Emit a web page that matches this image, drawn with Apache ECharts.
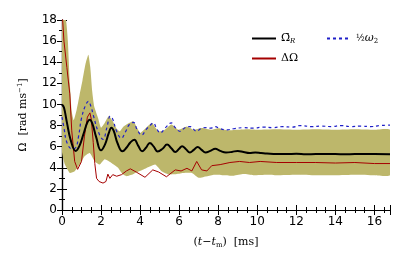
<!DOCTYPE html>
<html>
<head>
<meta charset="utf-8">
<script src="https://cdn.jsdelivr.net/npm/echarts@6/dist/echarts.min.js"></script>
<style>html,body{margin:0;padding:0;background:#fff}#c{width:411px;height:254px}</style>
</head>
<body>
<div id="c"></div>
<script>
// ---- data ----
const xTicks = [0, 2, 4, 6, 8, 10, 12, 14, 16];
const yTicks = [0, 2, 4, 6, 8, 10, 12, 14, 16, 18];

const omegaRX = [0,0.1,0.25,0.45,0.7,0.9,1.1,1.3,1.42,1.55,1.75,2.0,2.2,2.4,2.53,2.65,2.85,3.1,3.3,3.5,3.7,3.9,4.1,4.3,4.5,4.7,4.9,5.15,5.38,5.6,5.8,6.0,6.15,6.35,6.55,6.75,6.95,7.15,7.35,7.6,7.85,8.1,8.4,8.7,9.0,9.3,9.6,9.9,10.2,10.5,11,11.5,12,12.5,13,13.5,14,14.5,15,15.5,16,16.8];
const omegaR  = [10.0,9.7,8.3,6.6,5.6,6.1,7.2,8.3,8.55,8.2,6.9,5.65,6.2,7.3,7.8,7.5,6.3,5.56,5.9,6.4,6.65,6.1,5.56,5.9,6.35,6.0,5.55,5.8,6.2,5.85,5.5,5.8,6.05,5.75,5.45,5.7,5.97,5.7,5.45,5.6,5.8,5.6,5.45,5.5,5.6,5.5,5.4,5.45,5.4,5.35,5.3,5.3,5.32,5.28,5.3,5.3,5.3,5.28,5.3,5.3,5.3,5.28];

const deltaX = [0,0.1,0.25,0.4,0.5,0.65,0.8,1.0,1.15,1.3,1.43,1.5,1.6,1.68,1.77,1.9,2.1,2.25,2.35,2.45,2.6,2.8,3.05,3.3,3.5,3.8,4.25,4.65,4.95,5.35,5.8,6.1,6.4,6.65,6.9,7.15,7.42,7.67,8.1,8.6,9.1,9.6,10.15,11,12,13,14,15,16,16.8];
const delta  = [19,16,13.5,11,7.5,4.6,3.85,4.6,7.0,8.8,9.2,8.6,6.4,4.4,3.0,2.7,2.55,2.7,3.4,3.0,3.35,3.2,3.35,3.7,3.9,3.6,3.1,3.8,3.6,3.15,3.8,3.7,3.95,3.7,4.6,3.8,3.7,4.2,4.3,4.5,4.6,4.5,4.6,4.5,4.5,4.5,4.45,4.5,4.4,4.4];

const halfW2X = [0,0.1,0.25,0.5,0.7,0.85,1.0,1.2,1.35,1.5,1.6,1.85,2.1,2.3,2.47,2.6,2.8,3.04,3.25,3.45,3.66,3.85,4.08,4.3,4.5,4.68,4.85,5.03,5.3,5.6,5.8,6.05,6.3,6.56,6.9,7.1,7.33,7.6,7.85,8.1,8.45,8.8,9.3,9.8,10.3,10.8,11.3,11.8,12.2,12.8,13.3,13.8,14.3,14.8,15.3,15.8,16.3,16.8];
const halfW2  = [8.8,7.8,6.4,5.8,5.9,7.0,8.7,9.9,10.3,9.7,9.0,7.45,6.7,7.8,8.9,8.6,7.45,6.8,7.4,8.1,8.3,7.6,7.1,7.6,8.0,8.25,7.7,7.3,7.8,8.25,7.8,7.45,7.8,7.9,7.45,7.7,7.8,7.75,7.9,7.7,7.6,7.7,7.8,7.75,7.85,7.8,7.9,7.85,8.0,7.9,7.95,7.9,8.0,7.9,7.95,7.9,8.0,8.05];

const bandUpX = [0,0.2,0.3,0.4,0.5,0.6,0.75,0.9,1.05,1.2,1.35,1.45,1.55,1.65,1.85,2.0,2.2,2.4,2.6,2.8,2.96,3.15,3.3,3.65,4.0,4.2,4.6,4.94,5.2,5.6,5.97,6.4,6.73,7.16,7.67,8.0,8.5,9,9.5,10,11,12,13,14,15,16,16.8];
const bandUp  = [22,19.5,16,12,9.3,8.5,9.5,10.9,12.3,13.8,14.7,13.5,11.2,9.8,8.7,7.8,8.3,8.9,8.4,7.7,7.45,7.9,8.1,8.4,7.3,7.6,8.25,7.45,7.5,8.1,7.6,7.9,7.6,7.77,7.6,7.75,7.55,7.6,7.65,7.6,7.65,7.6,7.65,7.6,7.65,7.6,7.6];
const bandLoX = [0,0.15,0.4,0.65,0.9,1.16,1.42,1.68,1.93,2.19,2.53,2.87,3.1,3.3,3.64,3.74,4.17,4.77,5.1,5.45,5.8,6.2,6.65,7.0,7.42,7.8,8.3,8.8,9.3,9.8,10.5,11,12,13,14,15,16,16.8];
const bandLo  = [5.5,4.3,3.5,3.67,4.3,5.1,5.4,4.6,4.3,4.8,4.45,4.0,3.4,3.2,3.38,3.5,3.83,4.3,3.67,3.38,3.38,3.5,3.5,3.05,3.2,3.35,3.3,3.25,3.4,3.3,3.35,3.3,3.35,3.3,3.3,3.35,3.3,3.3];

const zip = (xs, ys) => xs.map((x, i) => [x, ys[i]]);

const chart = echarts.init(document.getElementById('c'), null, {renderer: 'canvas'});
const serif = '"DejaVu Serif", serif';
const sans = '"DejaVu Sans", sans-serif';

const tickCommon = (len, minorLen, split) => ({
  axisLine: {show: true, lineStyle: {color: '#000', width: 1.2}},
  axisTick: {show: true, inside: true, length: len, lineStyle: {color: '#000', width: 1}},
  minorTick: {show: true, splitNumber: split, length: minorLen, lineStyle: {color: '#000', width: 1}},
  splitLine: {show: false}
});

chart.setOption({
  animation: false,
  backgroundColor: '#fff',
  grid: {left: 62, right: 21, top: 20, bottom: 43.5},
  legend: [
    {
      orient: 'vertical', left: 246, top: 28, itemGap: 8, itemWidth: 24, itemHeight: 10,
      itemStyle: {opacity: 0, borderWidth: 0},
      data: ['omegaR', 'delta'],
      formatter: n => n === 'omegaR' ? '{a|Ω\u0304}{s|R}' : '{a|ΔΩ}',
      textStyle: {rich: {a: {fontFamily: serif, fontSize: 11, color: '#000'}, s: {fontFamily: serif, fontStyle: 'italic', fontSize: 7, color: '#000', verticalAlign: 'bottom', padding: [6, 0, 0, 0]}}}
    },
    {
      orient: 'vertical', left: 321, top: 28, itemWidth: 24, itemHeight: 10,
      itemStyle: {opacity: 0, borderWidth: 0},
      data: ['halfW2'],
      formatter: () => '{f|½}{a|ω}{s|2}',
      textStyle: {rich: {f: {fontFamily: serif, fontSize: 9, color: '#000'}, a: {fontFamily: serif, fontStyle: 'italic', fontSize: 11, color: '#000'}, s: {fontFamily: serif, fontSize: 7, color: '#000', padding: [6, 0, 0, 0]}}}
    }
  ],
  xAxis: [
    Object.assign({
      type: 'value', min: 0, max: 16.8, interval: 2, position: 'bottom',
      name: '{p|(}{i|t}{p|−}{i|t}{s|m}{p|)  [ms]}', nameLocation: 'middle', nameGap: 26,
      nameTextStyle: {rich: {p: {fontFamily: serif, fontSize: 11, color: '#000'}, i: {fontFamily: serif, fontStyle: 'italic', fontSize: 11, color: '#000'}, s: {fontFamily: serif, fontSize: 7, color: '#000', padding: [6, 0, 0, 0]}}},
      axisLabel: {show: true, fontFamily: sans, fontSize: 12, color: '#000', margin: 6, showMaxLabel: false, formatter: v => xTicks.includes(v) ? String(v) : ''}
    }, tickCommon(5, 3, 4)),
    Object.assign({
      type: 'value', min: 0, max: 16.8, interval: 2, position: 'top',
      axisLabel: {show: false}
    }, tickCommon(5, 3, 4))
  ],
  yAxis: [
    Object.assign({
      type: 'value', min: 0, max: 18, interval: 2, position: 'left',
      name: '{a|Ω  [rad ms}{s|−1}{a|]}', nameLocation: 'middle', nameGap: 32, nameRotate: 90,
      nameTextStyle: {rich: {a: {fontFamily: serif, fontSize: 11, color: '#000'}, s: {fontFamily: serif, fontSize: 7, color: '#000', padding: [0, 0, 6, 0]}}},
      axisLabel: {show: true, fontFamily: sans, fontSize: 12, color: '#000', margin: 5, formatter: v => yTicks.includes(v) ? String(v) : ''}
    }, tickCommon(5, 3, 2)),
    Object.assign({
      type: 'value', min: 0, max: 18, interval: 2, position: 'right',
      axisLabel: {show: false}
    }, tickCommon(5, 3, 2))
  ],
  series: [
    {
      type: 'custom', name: 'band', silent: true, z: 1, clip: true,
      data: [[0, 0]],
      renderItem: (params, api) => {
        const cs = params.coordSys;
        const clampY = p => [p[0], Math.max(cs.y, Math.min(cs.y + cs.height, p[1]))];
        const pts = [];
        bandUpX.forEach((x, i) => pts.push(clampY(api.coord([x, bandUp[i]]))));
        for (let i = bandLoX.length - 1; i >= 0; i--) pts.push(clampY(api.coord([bandLoX[i], bandLo[i]])));
        return {type: 'polygon', shape: {points: pts, smooth: 0.15}, style: {fill: '#bdb76b', stroke: null}};
      }
    },
    {
      type: 'line', name: 'halfW2', data: zip(halfW2X, halfW2), symbol: 'none', smooth: 0.4, z: 3,
      lineStyle: {color: '#1f1fc8', width: 1.2, type: [3, 3]}, itemStyle: {color: '#1f1fc8'}
    },
    {
      type: 'line', name: 'delta', data: zip(deltaX, delta), symbol: 'none', z: 4,
      lineStyle: {color: '#a50000', width: 1}, itemStyle: {color: '#a50000'}
    },
    {
      type: 'line', name: 'omegaR', data: zip(omegaRX, omegaR), symbol: 'none', smooth: 0.45, z: 5,
      lineStyle: {color: '#000', width: 2}, itemStyle: {color: '#000'}
    }
  ]
});
</script>
</body>
</html>
